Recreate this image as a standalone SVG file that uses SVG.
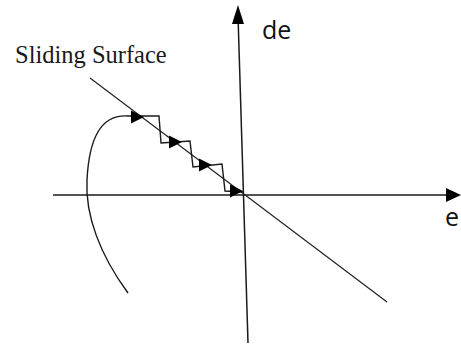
<svg xmlns="http://www.w3.org/2000/svg" width="461" height="349" viewBox="0 0 461 349">
<style>
.ax{stroke:#1a1a1a;stroke-width:1.5;fill:none}
.ln{stroke:#222;stroke-width:1.2;fill:none}
.tr{stroke:#1a1a1a;stroke-width:1.4;fill:none}
.hd{fill:#000}
.lbl{font-family:"Open Sans","Liberation Sans",sans-serif;font-size:25px;fill:#111}
.ser{font-family:"Liberation Serif","Times New Roman",serif;font-size:24.5px;fill:#1a1a1a}
</style>
<defs>
<polygon id="ah" points="0,0 -13,-6.5 -13,6.5"/>
</defs>
<rect width="461" height="349" fill="#fff"/>
<g id="connectors">
<line class="ax" x1="53" y1="195" x2="447" y2="195"/>
<polygon class="hd" points="461,195 446,188 446,202"/>
<line class="ax" x1="248" y1="343" x2="238.2" y2="22"/>
<polygon class="hd" points="238,5 232,24 244,24"/>
<line class="ln" x1="90" y1="78" x2="387" y2="302"/>
<path class="tr" d="M128,293 C100,255 85,215 87,180 C89,140 100,114 128,116 L159,116 L161,143 L190,141 L193,167 L222,164 L225,191 L243,192"/>
<use href="#ah" class="hd" transform="translate(144,117)"/>
<use href="#ah" class="hd" transform="translate(182,142)"/>
<use href="#ah" class="hd" transform="translate(212,165)"/>
<use href="#ah" class="hd" transform="translate(243,191)"/>
</g>
<g id="label-sliding"><text class="ser" x="15" y="63">Sliding Surface</text></g>
<g id="label-de"><text class="lbl" x="262" y="39">de</text></g>
<g id="label-e"><text class="lbl" x="445" y="226">e</text></g>
</svg>
